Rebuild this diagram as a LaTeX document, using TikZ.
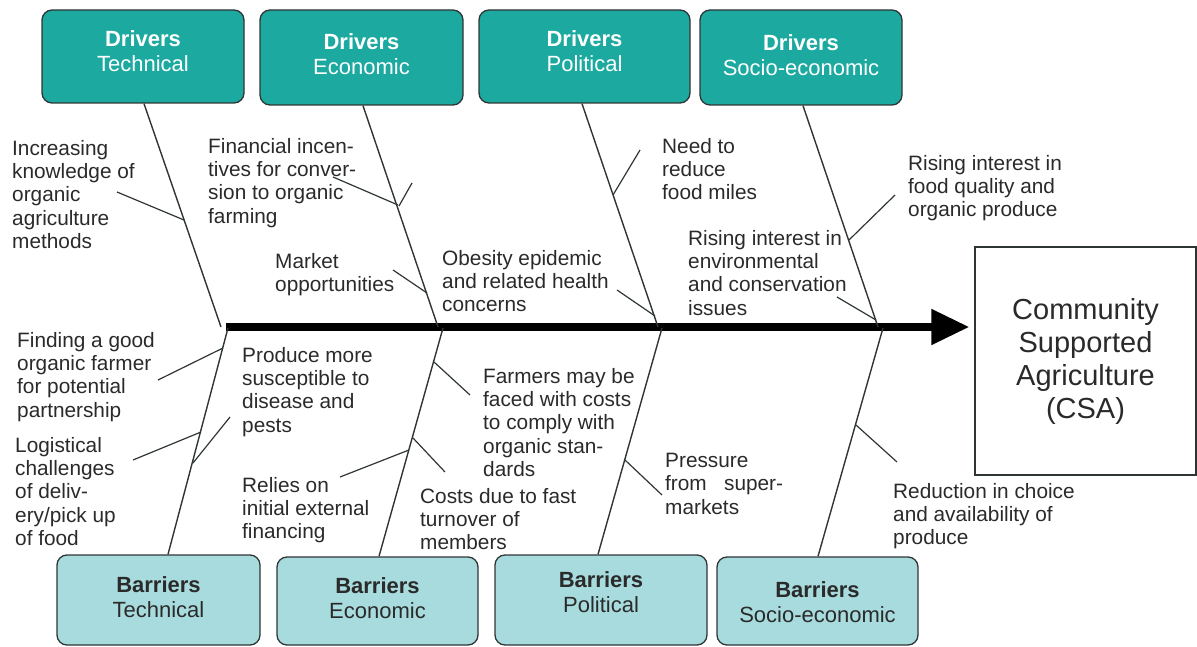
\documentclass[tikz,border=0pt]{standalone}
\usepackage{fontspec}
\setmainfont{Liberation Sans}
\usetikzlibrary{arrows.meta,calc}
\definecolor{tealA}{HTML}{1BA9A0}
\definecolor{cyanL}{HTML}{A8DBDD}
\definecolor{edgeC}{HTML}{2F3535}
\definecolor{txtC}{HTML}{2A2A2A}
\newcommand{\sidefont}{\fontsize{20.8}{23.3}\selectfont}
\newcommand{\boxfont}{\fontsize{22}{25}\selectfont}
\begin{document}
\begin{tikzpicture}[x=1pt,y=-1pt,
  drvbox/.style={draw=edgeC,line width=1.3pt,rounded corners=10pt,fill=tealA,inner sep=0pt},
  barbox/.style={draw=edgeC,line width=1.3pt,rounded corners=10pt,fill=cyanL,inner sep=0pt},
  dtxt/.style={align=center,font=\boxfont,inner sep=0pt,text=white},
  btxt/.style={align=center,font=\boxfont,inner sep=0pt,text=txtC},
  side/.style={anchor=north west,align=left,font=\sidefont,text=txtC,inner sep=0pt},
  bone/.style={draw=edgeC,line width=1.4pt},
  twig/.style={draw=edgeC,line width=1.2pt},
]
\useasboundingbox (0,0) rectangle (1197,647);

% driver boxes
\node[drvbox,minimum width=202pt,minimum height=93pt,
  label={[dtxt,yshift=5pt]center:{\textbf{Drivers}\\Technical}}] (dt) at (143,56.5) {};
\node[drvbox,minimum width=203pt,minimum height=95pt,
  label={[dtxt,yshift=3.5pt]center:{\textbf{Drivers}\\Economic}}] (de) at (361.5,57.5) {};
\node[drvbox,minimum width=211pt,minimum height=93pt,
  label={[dtxt,yshift=5.5pt]center:{\textbf{Drivers}\\Political}}] (dp) at (584.5,56.5) {};
\node[drvbox,minimum width=202pt,minimum height=95pt,
  label={[dtxt,yshift=2.5pt]center:{\textbf{Drivers}\\Socio-economic}}] (ds) at (801,57.5) {};

% barrier boxes
\node[barbox,minimum width=203pt,minimum height=90pt,
  label={[btxt,yshift=3pt]center:{\textbf{Barriers}\\Technical}}] (bt) at (158.5,600) {};
\node[barbox,minimum width=201pt,minimum height=88pt,
  label={[btxt,yshift=2.5pt]center:{\textbf{Barriers}\\Economic}}] (be) at (377.5,601) {};
\node[barbox,minimum width=212pt,minimum height=90pt,
  label={[btxt,yshift=7.5pt]center:{\textbf{Barriers}\\Political}}] (bp) at (601,600) {};
\node[barbox,minimum width=201pt,minimum height=88pt,
  label={[btxt,yshift=-1.5pt]center:{\textbf{Barriers}\\Socio-economic}}] (bs) at (817.5,601) {};

% outcome
\node[draw=edgeC,line width=1.3pt,minimum width=221pt,minimum height=228pt,inner sep=0pt,
  align=center,font=\fontsize{29}{33}\selectfont,text=txtC] (csa) at (1085.5,361)
  {Community\\Supported\\Agriculture\\(CSA)};

% spine
\coordinate (sp0) at (226,327);
\draw[line width=8pt,black,-{Triangle[length=38pt,width=34pt]},shorten >=5pt]
  (sp0) -- (sp0 -| csa.west);

% bones
\coordinate (t1) at (221,327);
\coordinate (t2) at (438,327);
\coordinate (t3) at (658,327);
\coordinate (t4) at (878,327);
\coordinate (b1) at (228,328);
\coordinate (b2) at (443,328);
\coordinate (b3) at (662,328);
\coordinate (b4) at (883,328);
\draw[bone] ([xshift=1pt]dt.south) -- (t1);
\draw[bone] ([xshift=1.5pt]de.south) -- (t2);
\draw[bone] ([xshift=-2.5pt]dp.south) -- (t3);
\draw[bone] ([xshift=2pt]ds.south) -- (t4);
\draw[bone] (b1) -- ([xshift=9.5pt]bt.north);
\draw[bone] (b2) -- ([xshift=1.5pt]be.north);
\draw[bone] (b3) -- ([xshift=-3pt]bp.north);
\draw[bone] (b4) -- ([xshift=0.5pt]bs.north);

% twigs
\coordinate (w1a) at (117,192);  \coordinate (w1b) at (184,220);
\coordinate (w2a) at (333,177);  \coordinate (w2b) at (398,205);
\coordinate (w3a) at (412,183);  \coordinate (w3b) at (399,206);
\coordinate (w4a) at (393,270);  \coordinate (w4b) at (427,293);
\coordinate (w5a) at (640,150);  \coordinate (w5b) at (613,195);
\coordinate (w6a) at (617,290);  \coordinate (w6b) at (655,316);
\coordinate (w7a) at (895,195);  \coordinate (w7b) at (849,240);
\coordinate (w8a) at (837,297);  \coordinate (w8b) at (876,320);
\coordinate (w9a) at (158,380);  \coordinate (w9b) at (223,348);
\coordinate (w10a) at (133,460); \coordinate (w10b) at (201,432);
\coordinate (w11a) at (230,417); \coordinate (w11b) at (193,463);
\coordinate (w12a) at (340,477); \coordinate (w12b) at (409,450);
\coordinate (w13a) at (470,395); \coordinate (w13b) at (434,362);
\coordinate (w14a) at (445,472); \coordinate (w14b) at (413,438);
\coordinate (w15a) at (662,495); \coordinate (w15b) at (625,460);
\coordinate (w16a) at (897,462); \coordinate (w16b) at (856,425);
\foreach \i in {1,...,16} {\draw[twig] (w\i a) -- (w\i b);}

% labels
\node[side] (l1) at (12,140) {Increasing\\knowledge of\\organic\\agriculture\\methods};
\node[side] (l2) at (208,138) {Financial incen-\\tives for conver-\\sion to organic\\farming};
\node[side] (l3) at (275,253) {Market\\opportunities};
\node[side] (l4) at (442,250) {Obesity epidemic\\and related health\\concerns};
\node[side] (l5) at (662,138) {Need to\\reduce\\food miles};
\node[side] (l6) at (688,230) {Rising interest in\\environmental\\and conservation\\issues};
\node[side] (l7) at (908,155) {Rising interest in\\food quality and\\organic produce};
\node[side] (l8) at (17,332) {Finding a good\\organic farmer\\for potential\\partnership};
\node[side] (l9) at (15,437) {Logistical\\challenges\\of deliv-\\ery/pick up\\of food};
\node[side] (l10) at (242,347) {Produce more\\susceptible to\\disease and\\pests};
\node[side] (l11) at (242,477) {Relies on\\initial external\\financing};
\node[side] (l12) at (483,368) {Farmers may be\\faced with costs\\to comply with\\organic stan-\\dards};
\node[side] (l13) at (420,488) {Costs due to fast\\turnover of\\members};
\node[side] (l14) at (665,453) {Pressure\\from\ \ \ super-\\markets};
\node[side] (l15) at (893,483) {Reduction in choice\\and availability of\\produce};
\end{tikzpicture}
\end{document}
